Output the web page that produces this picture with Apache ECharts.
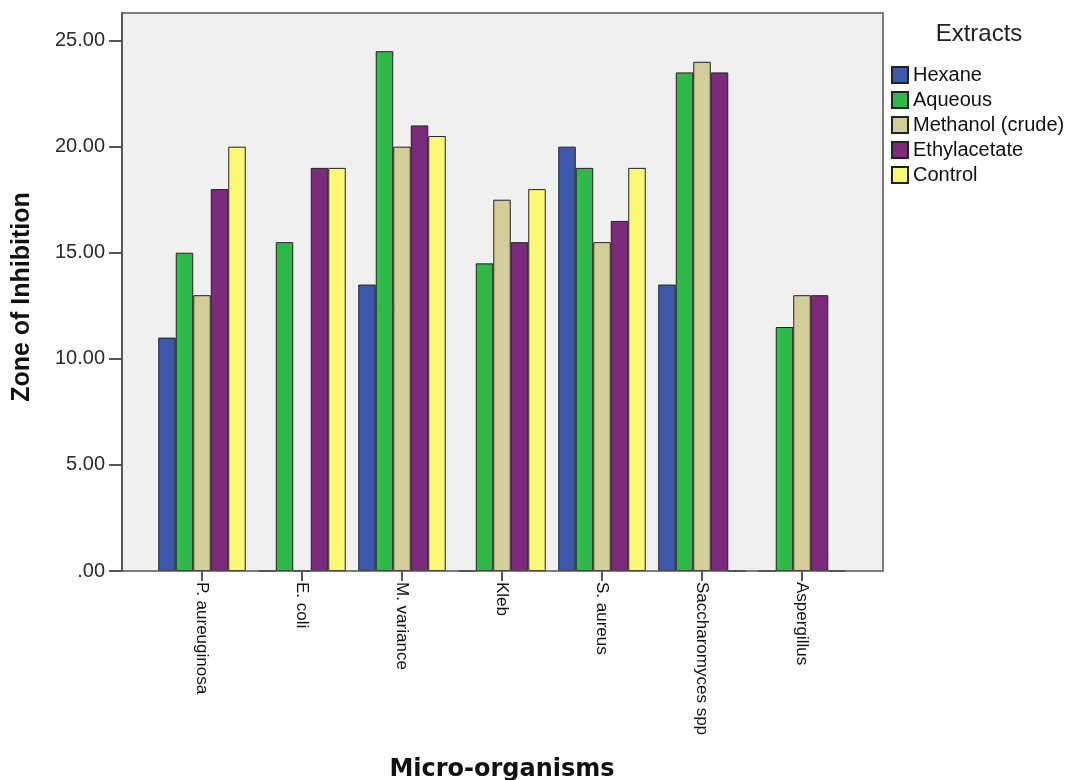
<!DOCTYPE html>
<html>
<head>
<meta charset="utf-8">
<script src="https://cdn.jsdelivr.net/npm/echarts@6/dist/echarts.min.js"></script>
<style>
html,body{margin:0;padding:0;background:#fff;}
#chart{width:1071px;height:780px;}
</style>
</head>
<body>
<div id="chart"></div>
<script>
const categories = ['P. aureuginosa', 'E. coli', 'M. variance', 'Kleb', 'S. aureus', 'Saccharomyces spp', 'Aspergillus'];
const seriesNames = ['Hexane', 'Aqueous', 'Methanol (crude)', 'Ethylacetate', 'Control'];
const hexane      = [11,   0,    13.5, 0,    20,   13.5, 0];
const aqueous     = [15,   15.5, 24.5, 14.5, 19,   23.5, 11.5];
const methanol    = [13,   0,    20,   17.5, 15.5, 24,   13];
const ethyl       = [18,   19,   21,   15.5, 16.5, 23.5, 13];
const control     = [20,   19,   20.5, 18,   19,   0,    0];
const yTicks = [0, 5, 10, 15, 20, 25];
const colors = ['#3E58AC', '#2EB848', '#D3CE97', '#7B2A7C', '#FBF873'];
const allData = [hexane, aqueous, methanol, ethyl, control];

const chart = echarts.init(document.getElementById('chart'));
chart.setOption({
  animation: false,
  backgroundColor: '#ffffff',
  grid: { left: 152, right: 219, top: 13, bottom: 209, containLabel: false },
  legend: {
    orient: 'vertical',
    left: 886,
    top: 60,
    itemWidth: 16,
    itemHeight: 16,
    itemGap: 5,
    icon: 'rect',
    textStyle: { fontFamily: 'Liberation Sans, Arial, sans-serif', fontSize: 20, color: '#111', lineHeight: 16 },
    data: seriesNames
  },
  xAxis: {
    type: 'category',
    data: categories,
    axisLine: { show: false },
    axisTick: { show: true, alignWithLabel: true, length: 10, lineStyle: { color: '#222', width: 1.5 } },
    axisLabel: {
      rotate: -90,
      margin: 11,
      interval: 0,
      fontFamily: 'Liberation Sans, Arial, sans-serif',
      fontSize: 17,
      color: '#111'
    },
    splitLine: { show: false }
  },
  yAxis: {
    type: 'value',
    min: 0,
    max: 26.3,
    interval: 5,
    offset: 30,
    axisLine: { show: true, lineStyle: { color: '#333', width: 1.5 } },
    axisTick: { show: true, length: 13, lineStyle: { color: '#222', width: 1.5 }, customValues: yTicks },
    axisLabel: {
      margin: 17,
      fontFamily: 'Liberation Sans, Arial, sans-serif',
      fontSize: 20,
      color: '#2a2a2a',
      customValues: yTicks,
      formatter: function (v) { return v === 0 ? '.00' : v.toFixed(2); }
    },
    splitLine: { show: false }
  },
  graphic: [
    { type: 'rect', z: -10, silent: true, shape: { x: 122, y: 13, width: 761, height: 558 }, style: { fill: '#F0F0F0' } },
    { type: 'rect', z: 100, silent: true, shape: { x: 122, y: 13, width: 761, height: 558 }, style: { fill: 'none', stroke: '#555', lineWidth: 1.5 } },
    { type: 'text', z: 100, x: 979, y: 34, style: { text: 'Extracts', fontFamily: 'Liberation Sans, Arial, sans-serif', fontSize: 24, fill: '#222', align: 'center', verticalAlign: 'middle' } },
    { type: 'text', z: 100, x: 22, y: 297, rotation: Math.PI / 2, style: { text: 'Zone of Inhibition', fontFamily: 'Liberation Sans, Arial, sans-serif', fontWeight: 'bold', fontSize: 25, fill: '#111', align: 'center', verticalAlign: 'middle' } },
    { type: 'text', z: 100, x: 502, y: 770, style: { text: 'Micro-organisms', fontFamily: 'DejaVu Sans, sans-serif', fontWeight: 'bold', fontSize: 24, fill: '#111', align: 'center', verticalAlign: 'middle' } }
  ],
  series: seriesNames.map(function (name, i) {
    return {
      name: name,
      type: 'bar',
      barWidth: 17.5,
      barGap: '0%',
      data: allData[i],
      itemStyle: { color: colors[i], borderColor: '#222', borderWidth: 1 }
    };
  })
});
</script>
</body>
</html>
